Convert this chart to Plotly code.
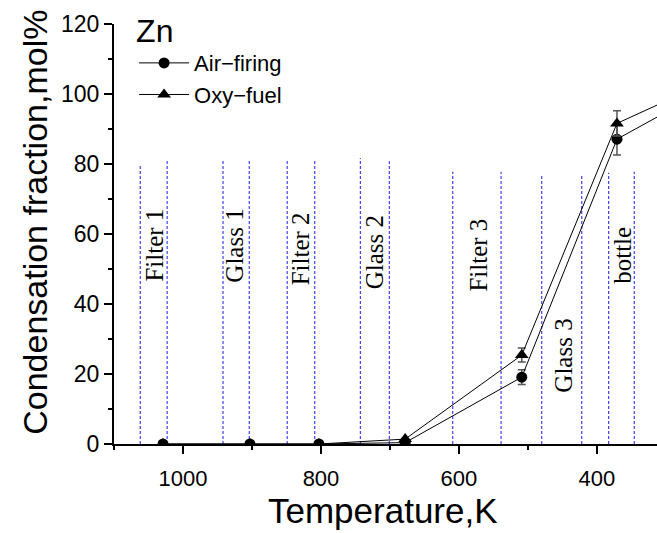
import plotly.graph_objects as go

# ---- data ----
temperature = [1029, 903, 803, 678, 509, 371, 300]
air_firing = [0.0, 0.0, 0.0, 0.4, 19.1, 87.1, 94.8]
air_err = [0, 0, 0, 0, 2.1, 4.5, 0]
oxy_fuel = [0.0, 0.0, 0.0, 1.4, 25.4, 91.6, 98.0]
oxy_err = [0, 0, 0, 0, 2.0, 3.6, 0]

boundary_T = [1062, 1023, 942, 904, 849, 809, 743, 701, 609, 539, 480, 422, 383, 346]
boundary_top = [79.7, 81, 81.3, 81, 81.3, 81.3, 81.7, 80.8, 77.8, 77.8, 77.1, 76.9, 77.5, 77.8]

stage_names = ["Filter 1", "Glass 1", "Filter 2", "Glass 2", "Filter 3", "Glass 3", "bottle"]
stage_T = [1041, 925, 830, 722, 573, 448, 364]
stage_y = [56.9, 56.6, 55.7, 54.7, 54.0, 25.2, 54.0]

x_ticks = [1000, 800, 600, 400]
y_ticks = [0, 20, 40, 60, 80, 100, 120]

SANS = "Liberation Sans, Arial, sans-serif"
SERIF = "Liberation Serif, Times New Roman, serif"

fig = go.Figure()
fig.add_trace(go.Scatter(
    x=temperature, y=air_firing, name="Air\u2212firing", mode="lines+markers",
    line=dict(color="black", width=1),
    marker=dict(symbol="circle", size=11, color="black"),
    error_y=dict(type="data", array=air_err, color="#555555", thickness=1.5, width=4),
))
fig.add_trace(go.Scatter(
    x=temperature, y=oxy_fuel, name="Oxy\u2212fuel", mode="lines+markers",
    line=dict(color="black", width=1),
    marker=dict(symbol="triangle-up", size=12, color="black"),
    error_y=dict(type="data", array=oxy_err, color="#555555", thickness=1.5, width=4),
))

for t, top in zip(boundary_T, boundary_top):
    fig.add_shape(type="line", x0=t, x1=t, y0=0, y1=top, xref="x", yref="y",
                  line=dict(color="#1a1aff", width=1, dash="3px,2px"), layer="below")

for name, t, yv in zip(stage_names, stage_T, stage_y):
    fig.add_annotation(x=t, y=yv, xref="x", yref="y", text=name, showarrow=False,
                       textangle=-90, xanchor="center", yanchor="middle",
                       font=dict(family=SERIF, size=25, color="black"))

fig.add_annotation(x=0.496, y=-0.158, xref="paper", yref="paper", text="Temperature,K",
                   showarrow=False, xanchor="center", yanchor="middle",
                   font=dict(family=SANS, size=35, color="black"))
fig.add_annotation(x=-0.1455, y=0.529, xref="paper", yref="paper",
                   text="Condensation fraction,mol%", showarrow=False, textangle=-90,
                   xanchor="center", yanchor="middle",
                   font=dict(family=SANS, size=34, color="black"))

fig.update_layout(
    width=657, height=533,
    margin=dict(l=114, r=0, t=24, b=89),
    paper_bgcolor="white", plot_bgcolor="white",
    font=dict(family=SANS, color="black"),
    legend=dict(
        x=0.037, y=1.056, xanchor="left", yanchor="top",
        bgcolor="rgba(0,0,0,0)",
        title=dict(text="Zn", font=dict(family=SANS, size=32, color="black")),
        font=dict(family=SANS, size=22, color="black"),
        itemwidth=50, tracegroupgap=0,
    ),
    showlegend=True,
)
fig.update_xaxes(
    range=[1100, 313], showgrid=False, zeroline=False,
    showline=True, linecolor="black", linewidth=2,
    ticks="outside", ticklen=8, tickwidth=2, tickcolor="black",
    tickvals=x_ticks, ticktext=[str(v) for v in x_ticks],
    tickfont=dict(family=SANS, size=22, color="black"),
    ticklabelstandoff=6,
    minor=dict(dtick=100, ticks="outside", ticklen=4, tickwidth=1.5, tickcolor="black"),
)
fig.update_yaxes(
    range=[0, 120], showgrid=False, zeroline=False,
    showline=True, linecolor="black", linewidth=2,
    ticks="outside", ticklen=8, tickwidth=2, tickcolor="black",
    tickvals=y_ticks, ticktext=[str(v) for v in y_ticks],
    tickfont=dict(family=SANS, size=23, color="black"),
    minor=dict(dtick=10, ticks="outside", ticklen=4, tickwidth=1.5, tickcolor="black"),
)

fig.write_html("out.html")
